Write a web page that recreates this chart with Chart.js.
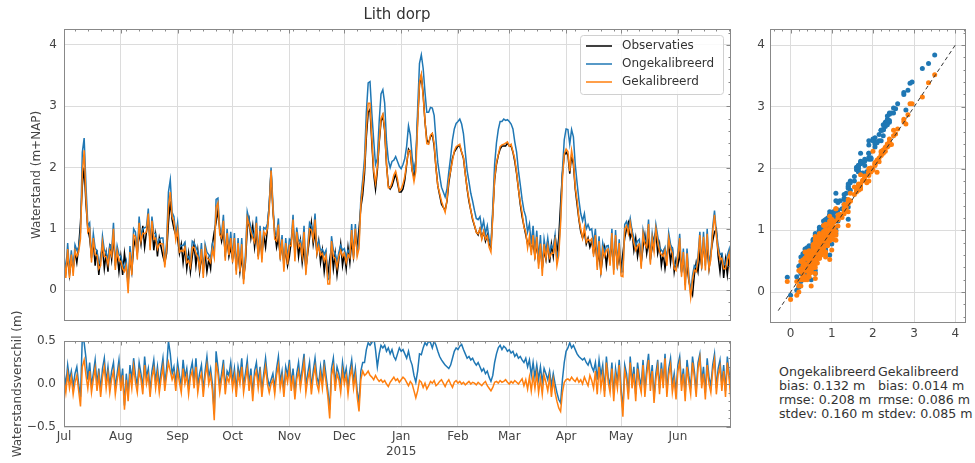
<!DOCTYPE html>
<html>
<head>
<meta charset="utf-8">
<title>Lith dorp</title>
<script src="https://cdn.jsdelivr.net/npm/chart.js@4.4.1/dist/chart.umd.min.js"></script>
<style>
  html, body { margin: 0; padding: 0; background: #fff; }
  body { width: 975px; height: 463px; position: relative; overflow: hidden; font-family: 'DejaVu Sans', sans-serif; }
  canvas { position: absolute; }
  #main { left: 0; top: 0; }
  #diff { left: 0; top: 290px; }
  #scatter { left: 740px; top: 0; }
  .stats { position: absolute; top: 365px; font-size: 12.6px; line-height: 13.9px; color: #333; white-space: pre; }
</style>
</head>
<body>
<canvas id="main" width="794" height="335"></canvas>
<canvas id="diff" width="760" height="173"></canvas>
<canvas id="scatter" width="235" height="350"></canvas>
<div class="stats" id="stats-uncal" style="left:779px"></div>
<div class="stats" id="stats-cal" style="left:878px"></div>
<script>
// Lith dorp: waterstand observaties vs model, jul 2014 - jun 2015 (dagwaarden, dag 0 = 1 juli 2014)
const seriesNames = ['Observaties', 'Ongekalibreerd', 'Gekalibreerd'];
const colors = ['#000000', '#1f77b4', '#ff7f0e'];

const monthLabels = ['Jul', 'Aug', 'Sep', 'Oct', 'Nov', 'Dec', 'Jan', 'Feb', 'Mar', 'Apr', 'May', 'Jun'];
const monthStarts = [0, 31, 62, 92, 123, 153, 184, 215, 243, 274, 304, 335];
const yearLabel = '2015';
const levelTicks = [0, 1, 2, 3, 4];
const diffTicks = [-0.5, 0, 0.5];
const oneToOne = [-0.3, 4];

// waterstand observaties (m+NAP)
const obs = [
  0.45, 0.30, 0.55, 0.25, 0.50, 0.35, 0.62, 0.45, 0.70, 1.10,
  1.70, 2.00, 1.40, 1.00, 0.85, 0.55, 0.80, 0.40, 0.65, 0.25,
  0.55, 0.70, 0.35, 0.60, 0.30, 0.75, 0.50, 0.85, 0.45, 0.60,
  0.30, 0.55, 0.25, 0.60, 0.35, 0.15, 0.50, 0.30, 0.70, 0.85,
  0.60, 0.95, 0.75, 1.05, 0.70, 0.95, 1.15, 0.80, 1.05, 0.65,
  0.90, 0.55, 0.85, 0.70, 0.55, 0.45, 0.60, 1.10, 1.45, 1.15,
  1.00, 0.90, 0.85, 0.60, 0.75, 0.45, 0.70, 0.35, 0.60, 0.30,
  0.55, 0.75, 0.40, 0.65, 0.30, 0.55, 0.35, 0.60, 0.30, 0.50,
  0.35, 0.75, 0.95, 1.10, 1.30, 1.00, 0.80, 0.95, 0.60, 0.85,
  0.55, 0.70, 0.50, 0.75, 0.40, 0.65, 0.30, 0.55, 0.20, 0.45,
  1.00, 1.15, 0.85, 1.05, 0.70, 0.95, 0.55, 0.85, 0.60, 0.90,
  0.70, 1.00, 1.40, 1.95, 1.30, 0.95, 0.70, 0.85, 0.55, 0.75,
  0.45, 0.65, 0.40, 0.55, 0.80, 1.05, 0.65, 0.90, 0.55, 0.80,
  0.45, 0.70, 0.35, 0.60, 0.85, 1.10, 0.75, 0.95, 0.60, 0.80,
  0.45, 0.65, 0.30, 0.55, 0.25, 0.50, 0.70, 0.35, 0.60, 0.25,
  0.50, 0.75, 0.40, 0.60, 0.35, 0.70, 0.45, 0.80, 0.55, 0.90,
  0.70, 1.00, 1.35, 1.55, 1.90, 2.50, 2.90, 2.95, 2.40, 1.90,
  1.65, 1.95, 2.40, 2.75, 2.85, 2.60, 2.05, 1.70, 1.65, 1.70,
  1.80, 1.90, 1.75, 1.60, 1.60, 1.65, 1.80, 2.05, 2.30, 2.25,
  1.95, 1.85, 2.10, 2.80, 3.35, 3.50, 3.20, 2.75, 2.45, 2.40,
  2.50, 2.55, 2.35, 2.00, 1.70, 1.55, 1.40, 1.35, 1.30, 1.45,
  1.75, 1.95, 2.15, 2.25, 2.30, 2.35, 2.35, 2.25, 2.15, 1.90,
  1.65, 1.45, 1.30, 1.15, 1.05, 0.95, 0.90, 1.00, 0.85, 0.95,
  0.80, 0.90, 0.75, 0.70, 1.25, 1.80, 2.05, 2.20, 2.30, 2.35,
  2.35, 2.35, 2.40, 2.35, 2.35, 2.25, 2.10, 1.90, 1.65, 1.40,
  1.20, 1.05, 0.90, 0.75, 0.80, 0.65, 0.80, 0.55, 0.75, 0.45,
  0.70, 0.35, 0.65, 0.50, 0.80, 0.45, 0.75, 0.55, 0.90, 0.60,
  0.85, 1.40, 1.90, 2.20, 2.25, 2.20, 1.90, 2.20, 2.05, 1.65,
  1.40, 1.15, 0.95, 0.85, 0.95, 0.75, 0.85, 0.70, 0.80, 0.60,
  0.75, 0.45, 0.60, 0.30, 0.55, 0.70, 0.40, 0.65, 0.50, 0.75,
  0.45, 0.80, 0.40, 0.55, 0.35, 0.60, 0.85, 1.00, 1.10, 0.85,
  0.95, 0.65, 0.85, 0.55, 0.75, 0.45, 0.70, 0.90, 0.60, 0.80,
  0.50, 0.70, 0.85, 0.95, 0.60, 0.75, 0.40, 0.60, 0.35, 0.55,
  0.75, 0.45, 0.70, 0.30, 0.50, 0.40, 0.60, 0.30, 0.50, 0.20,
  0.40, 0.15, 0.00, -0.08, 0.25, 0.45, 0.30, 0.60, 0.40, 0.75,
  0.50, 0.70, 0.35, 0.60, 0.80, 0.95, 1.00, 0.55, 0.30, 0.60,
  0.20, 0.50, 0.25, 0.55, 0.40
];

// verschil ongekalibreerd model - observatie (m)
const diffUncal = [
  0.14, -0.02, 0.22, 0.05, 0.15, -0.03, 0.12, 0.20, 0.00, -0.15,
  0.55, 0.48, 0.30, 0.05, 0.25, -0.02, 0.12, 0.28, 0.00, 0.18,
  -0.08, 0.18, 0.30, 0.02, 0.20, -0.02, 0.15, 0.25, -0.05, 0.12,
  0.28, 0.00, 0.18, -0.25, 0.12, -0.12, 0.22, 0.05, 0.30, 0.10,
  -0.02, 0.25, 0.12, -0.05, 0.32, 0.08, 0.18, -0.08, 0.15, 0.28,
  0.02, 0.20, -0.02, 0.15, 0.30, 0.00, 0.18, 0.50, 0.35, 0.12,
  0.20, 0.00, 0.25, 0.10, -0.02, 0.28, 0.08, 0.18, -0.05, 0.15,
  0.25, 0.02, 0.30, -0.02, 0.12, 0.22, -0.08, 0.15, 0.32, 0.08,
  0.18, 0.00, -0.35, 0.38, 0.20, -0.02, 0.12, 0.28, -0.05, 0.15,
  0.10, 0.25, 0.02, 0.18, -0.08, 0.20, 0.08, 0.30, -0.02, 0.12,
  0.28, 0.00, 0.18, -0.12, 0.15, 0.25, 0.02, 0.20, -0.08, 0.12,
  0.30, 0.08, -0.02, 0.05, 0.12, -0.05, 0.18, 0.32, 0.02, 0.15,
  -0.08, 0.20, 0.10, 0.28, 0.00, 0.18, -0.10, 0.12, 0.25, 0.02,
  0.18, 0.35, -0.02, 0.12, 0.25, -0.05, 0.15, 0.30, 0.08, 0.00,
  0.20, 0.02, 0.28, 0.10, -0.08, -0.30, 0.18, 0.30, 0.00, 0.20,
  0.12, -0.02, 0.25, 0.08, 0.18, -0.05, 0.15, 0.28, 0.02, 0.18,
  -0.08, -0.22, 0.15, 0.25, 0.25, 0.40, 0.48, 0.45, 0.48, 0.55,
  0.40, 0.20, 0.35, 0.45, 0.42, 0.45, 0.38, 0.42, 0.35, 0.40,
  0.32, 0.28, 0.35, 0.42, 0.38, 0.40, 0.35, 0.30, 0.38, 0.28,
  0.22, 0.10, 0.02, 0.15, 0.35, 0.34, 0.42, 0.48, 0.45, 0.50,
  0.48, 0.42, 0.50, 0.45, 0.38, 0.32, 0.28, 0.25, 0.22, 0.20,
  0.18, 0.22, 0.30, 0.38, 0.42, 0.40, 0.44, 0.46, 0.40, 0.35,
  0.30, 0.32, 0.28, 0.30, 0.25, 0.22, 0.25, 0.20, 0.15, 0.18,
  0.12, 0.15, 0.08, 0.03, 0.10, 0.25, 0.35, 0.42, 0.45, 0.40,
  0.44, 0.42, 0.38, 0.40, 0.36, 0.38, 0.32, 0.35, 0.30, 0.32,
  0.28, 0.25, 0.30, 0.20, 0.28, 0.10, 0.25, 0.08, 0.22, 0.05,
  0.20, 0.02, 0.18, 0.12, 0.05, 0.15, -0.02, 0.12, 0.00, -0.10,
  -0.18, -0.22, 0.05, 0.25, 0.38, 0.42, 0.48, 0.42, 0.45, 0.40,
  0.35, 0.32, 0.30, 0.28, 0.30, 0.25, 0.22, 0.28, 0.20, 0.15,
  0.25, 0.05, 0.28, 0.10, 0.22, -0.08, 0.32, 0.08, -0.02, 0.25,
  -0.12, 0.18, 0.02, 0.28, -0.05, -0.30, 0.22, 0.12, -0.10, 0.32,
  0.02, 0.20, -0.12, 0.25, 0.08, -0.02, 0.28, -0.08, 0.18, 0.35,
  0.00, 0.22, -0.15, 0.12, 0.28, -0.05, 0.25, 0.02, 0.35, -0.08,
  0.18, 0.30, -0.02, 0.12, -0.10, 0.22, 0.32, 0.00, 0.18, -0.12,
  0.28, 0.10, -0.05, 0.32, 0.15, -0.08, 0.25, 0.35, 0.02, 0.20,
  -0.10, 0.30, 0.08, -0.02, 0.22, 0.35, -0.05, 0.18, 0.28, 0.00,
  0.22, -0.08, 0.32, 0.12, -0.12
];

// verschil gekalibreerd model - observatie (m)
const diffCal = [
  0.05, -0.10, 0.12, -0.05, 0.08, -0.12, 0.02, 0.10, -0.08, -0.26,
  0.20, 0.28, 0.10, -0.05, 0.15, -0.10, 0.05, 0.18, -0.08, 0.10,
  -0.15, 0.08, 0.20, -0.05, 0.12, -0.10, 0.06, 0.15, -0.12, 0.04,
  0.18, -0.08, 0.10, -0.30, 0.05, -0.20, 0.12, -0.05, 0.20, 0.02,
  -0.10, 0.15, 0.05, -0.12, 0.22, 0.00, 0.10, -0.15, 0.08, 0.18,
  -0.05, 0.12, -0.10, 0.06, 0.20, -0.08, 0.10, 0.25, 0.15, 0.05,
  0.12, -0.08, 0.15, 0.02, -0.10, 0.18, 0.00, 0.10, -0.12, 0.08,
  0.15, -0.05, 0.20, -0.10, 0.05, 0.12, -0.15, 0.08, 0.22, 0.00,
  0.10, -0.08, -0.42, 0.25, 0.12, -0.10, 0.05, 0.18, -0.12, 0.08,
  0.02, 0.15, -0.05, 0.10, -0.15, 0.12, 0.00, 0.20, -0.10, 0.05,
  0.18, -0.08, 0.10, -0.20, 0.08, 0.15, -0.05, 0.12, -0.15, 0.05,
  0.20, 0.00, -0.10, 0.00, 0.05, -0.12, 0.10, 0.22, -0.05, 0.08,
  -0.15, 0.12, 0.02, 0.18, -0.08, 0.10, -0.18, 0.05, 0.15, -0.05,
  0.10, 0.25, -0.10, 0.05, 0.15, -0.12, 0.08, 0.20, 0.00, -0.08,
  0.12, -0.05, 0.18, 0.02, -0.15, -0.40, 0.10, 0.20, -0.08, 0.12,
  0.05, -0.10, 0.15, 0.00, 0.10, -0.12, 0.08, 0.18, -0.05, 0.10,
  -0.15, -0.32, 0.05, 0.15, 0.10, 0.12, 0.15, 0.10, 0.08, 0.05,
  0.10, 0.06, 0.03, 0.05, 0.02, 0.04, 0.00, -0.03, 0.02, 0.05,
  0.08, 0.04, 0.06, 0.02, 0.05, 0.08, 0.06, 0.02, -0.02, 0.03,
  0.00, -0.08, -0.16, -0.08, 0.04, 0.02, -0.04, 0.01, -0.06, -0.02,
  0.03, 0.01, 0.04, -0.02, 0.00, 0.03, 0.05, 0.01, -0.03, 0.02,
  0.05, 0.00, -0.04, 0.02, 0.04, 0.01, 0.03, 0.00, 0.02, -0.01,
  0.01, 0.03, 0.00, 0.02, 0.01, -0.01, 0.02, 0.00, -0.02, 0.01,
  0.03, -0.02, -0.05, -0.08, -0.04, 0.02, 0.03, 0.01, 0.04, 0.02,
  0.03, 0.05, 0.02, 0.00, 0.03, 0.01, 0.04, 0.02, 0.00, 0.03,
  0.06, -0.02, 0.05, -0.06, 0.08, -0.08, 0.10, -0.05, 0.12, -0.10,
  0.06, -0.12, 0.10, 0.02, -0.08, 0.08, -0.15, 0.05, -0.10, -0.20,
  -0.28, -0.32, -0.10, 0.02, 0.05, 0.06, 0.04, 0.08, 0.05, 0.03,
  0.07, 0.02, 0.05, 0.00, 0.08, 0.03, -0.02, 0.10, 0.04, -0.05,
  0.15, -0.12, 0.20, -0.05, 0.12, -0.15, 0.25, 0.02, -0.10, 0.18,
  -0.20, 0.10, -0.05, 0.22, -0.12, -0.38, 0.15, 0.05, -0.18, 0.25,
  -0.05, 0.12, -0.20, 0.18, 0.00, -0.10, 0.22, -0.15, 0.10, 0.28,
  -0.08, 0.15, -0.22, 0.05, 0.20, -0.12, 0.18, -0.05, 0.30, -0.15,
  0.10, 0.22, -0.10, 0.05, -0.18, 0.15, 0.25, -0.08, 0.12, -0.20,
  0.20, 0.02, -0.12, 0.25, 0.08, -0.15, 0.18, 0.30, -0.05, 0.12,
  -0.18, 0.22, 0.00, -0.10, 0.15, 0.28, -0.12, 0.10, 0.20, -0.08,
  0.15, -0.15, 0.25, 0.05, -0.20
];

const statLabels = ['bias', 'rmse', 'stdev'];
const statUncal = [0.132, 0.208, 0.160];
const statCal = [0.014, 0.086, 0.085];

// modelreeksen = observatie + verschil
const uncal = obs.map((v, i) => +(v + diffUncal[i]).toFixed(3));
const cal = obs.map((v, i) => +(v + diffCal[i]).toFixed(3));
const toXY = arr => arr.map((v, i) => ({ x: i, y: v }));

Chart.defaults.font.family = "'DejaVu Sans', sans-serif";
Chart.defaults.font.size = 12;
Chart.defaults.color = '#444';

const gridColor = '#dcdcdc';
const frameColor = '#888';

// minor ticks (alleen versiering op boven- en rechterrand)
const weekTicks = [];
for (let d = 6; d <= 364; d += 7) weekTicks.push(d);
const levelMinor = [];
for (let v = -4; v <= 42; v += 2) levelMinor.push(v / 10);
const diffMinor = [];
for (let v = -4; v <= 4; v++) diffMinor.push(v / 10);

// kader + naar binnen wijzende ticks boven en rechts
const frameTicks = {
  id: 'frameTicks',
  afterDraw(chart, args, opts) {
    const { ctx, chartArea: a, scales } = chart;
    ctx.save();
    ctx.strokeStyle = frameColor;
    ctx.lineWidth = 1;
    ctx.strokeRect(Math.round(a.left) + 0.5, Math.round(a.top) + 0.5, Math.round(a.width) - 1, Math.round(a.height) - 1);
    const tick = (x1, y1, x2, y2) => { ctx.beginPath(); ctx.moveTo(x1, y1); ctx.lineTo(x2, y2); ctx.stroke(); };
    const xs = (vals, len) => (vals || []).forEach(v => {
      const x = Math.round(scales.x.getPixelForValue(v)) + 0.5;
      tick(x, a.top, x, a.top + len);
    });
    const ys = (vals, len) => (vals || []).forEach(v => {
      const y = Math.round(scales.y.getPixelForValue(v)) + 0.5;
      tick(a.right, y, a.right - len, y);
    });
    xs(opts.xMinor, 2.5); xs(opts.xMajor, 4.5);
    ys(opts.yMinor, 2.5); ys(opts.yMajor, 4.5);
    ctx.restore();
  }
};

// legenda in kader rechtsboven
const boxLegend = {
  id: 'boxLegend',
  afterDraw(chart) {
    const { ctx, chartArea: a } = chart;
    const w = 143, h = 59;
    const x0 = a.right - 8 - w, y0 = a.top + 6;
    ctx.save();
    ctx.beginPath();
    if (ctx.roundRect) ctx.roundRect(x0 + 0.5, y0 + 0.5, w, h, 3); else ctx.rect(x0 + 0.5, y0 + 0.5, w, h);
    ctx.fillStyle = 'rgba(255,255,255,0.85)';
    ctx.fill();
    ctx.strokeStyle = '#d0d0d0';
    ctx.lineWidth = 1;
    ctx.stroke();
    ctx.font = "12px 'DejaVu Sans', sans-serif";
    ctx.textBaseline = 'middle';
    chart.data.datasets.forEach((ds, i) => {
      const y = y0 + 11 + i * 18;
      ctx.beginPath();
      ctx.moveTo(x0 + 6, y);
      ctx.lineTo(x0 + 32, y);
      ctx.strokeStyle = ds.borderColor;
      ctx.lineWidth = 1.5;
      ctx.stroke();
      ctx.fillStyle = '#333';
      ctx.fillText(ds.label, x0 + 42, y);
    });
    ctx.restore();
  }
};

const setTicks = vals => scale => { scale.ticks = vals.map(v => ({ value: v })); };

// bovenste paneel: waterstand
new Chart(document.getElementById('main'), {
  type: 'line',
  data: {
    datasets: [
      { label: seriesNames[0], data: toXY(obs), borderColor: colors[0], order: 2 },
      { label: seriesNames[1], data: toXY(uncal), borderColor: colors[1], order: 1 },
      { label: seriesNames[2], data: toXY(cal), borderColor: colors[2], order: 0 }
    ]
  },
  options: {
    responsive: false,
    animation: false,
    events: [],
    layout: { padding: { left: 0, top: 0, right: 0, bottom: 12 } },
    elements: { point: { radius: 0 }, line: { borderWidth: 1.5, tension: 0 } },
    scales: {
      x: {
        type: 'linear', min: 0, max: 364, bounds: 'data',
        grid: { color: gridColor, drawTicks: false },
        border: { display: false },
        ticks: { display: false },
        afterBuildTicks: setTicks(monthStarts),
        afterFit: s => { s.height = 0; }
      },
      y: {
        min: -0.5, max: 4.26, bounds: 'data',
        grid: { color: gridColor, drawTicks: false },
        border: { display: false },
        ticks: { padding: 7, callback: v => String(v) },
        afterBuildTicks: setTicks(levelTicks),
        afterFit: s => { s.width = 64; },
        title: { display: true, text: 'Waterstand (m+NAP)', padding: { top: 30, bottom: 0 } }
      },
      // lege ruimte rechts zodat de titel boven het plotvlak centreert
      spacer: {
        type: 'linear', position: 'right',
        grid: { display: false },
        border: { display: false },
        ticks: { display: false },
        afterFit: s => { s.width = 63; }
      }
    },
    plugins: {
      legend: { display: false },
      tooltip: { enabled: false },
      title: {
        display: true, text: 'Lith dorp', color: '#333',
        font: { size: 15, weight: 'normal' },
        padding: { top: 6, bottom: 5 }
      },
      frameTicks: { xMajor: monthStarts, xMinor: weekTicks, yMajor: levelTicks, yMinor: levelMinor }
    }
  },
  plugins: [frameTicks, boxLegend]
});

// onderste paneel: waterstandsverschil
new Chart(document.getElementById('diff'), {
  type: 'line',
  data: {
    datasets: [
      { label: seriesNames[1], data: toXY(diffUncal), borderColor: colors[1], order: 1 },
      { label: seriesNames[2], data: toXY(diffCal), borderColor: colors[2], order: 0 }
    ]
  },
  options: {
    responsive: false,
    animation: false,
    events: [],
    layout: { padding: { left: 0, top: 51, right: 29, bottom: 0 } },
    elements: { point: { radius: 0 }, line: { borderWidth: 1.5, tension: 0 } },
    scales: {
      x: {
        type: 'linear', min: 0, max: 364, bounds: 'data',
        grid: { color: gridColor, drawTicks: false },
        border: { display: false },
        ticks: {
          padding: 3, maxRotation: 0, autoSkip: false,
          callback: (v, i) => i === 6 ? [monthLabels[i], yearLabel] : monthLabels[i]
        },
        afterBuildTicks: setTicks(monthStarts),
        afterFit: s => { s.height = 36; }
      },
      y: {
        min: -0.5, max: 0.5, bounds: 'data',
        grid: { color: gridColor, drawTicks: false },
        border: { display: false },
        ticks: { padding: 8, callback: v => (v < 0 ? '\u2212' : '') + Math.abs(v).toFixed(1) },
        afterBuildTicks: setTicks(diffTicks),
        afterFit: s => { s.width = 64; },
        title: { display: true, text: 'Waterstandsverschil (m)', padding: { top: 11, bottom: 0 } }
      }
    },
    plugins: {
      legend: { display: false },
      tooltip: { enabled: false },
      frameTicks: { xMajor: monthStarts, xMinor: weekTicks, yMajor: diffTicks, yMinor: diffMinor }
    }
  },
  plugins: [frameTicks]
});

// rechts: model tegen observatie
new Chart(document.getElementById('scatter'), {
  type: 'scatter',
  data: {
    datasets: [
      {
        type: 'line', label: '1:1', order: -1,
        data: oneToOne.map(v => ({ x: v, y: v })),
        borderColor: '#333', borderWidth: 1, borderDash: [4, 3], pointRadius: 0
      },
      {
        label: seriesNames[1], order: 1,
        data: obs.map((v, i) => ({ x: v, y: uncal[i] })),
        backgroundColor: colors[1], borderWidth: 0, pointRadius: 2.5
      },
      {
        label: seriesNames[2], order: 0,
        data: obs.map((v, i) => ({ x: v, y: cal[i] })),
        backgroundColor: colors[2], borderWidth: 0, pointRadius: 2.5
      }
    ]
  },
  options: {
    responsive: false,
    animation: false,
    events: [],
    layout: { padding: { left: 0, top: 29, right: 9, bottom: 0 } },
    scales: {
      x: {
        type: 'linear', min: -0.5, max: 4.26, bounds: 'data',
        grid: { color: gridColor, drawTicks: false },
        border: { display: false },
        ticks: { padding: 4, maxRotation: 0, callback: v => String(v) },
        afterBuildTicks: setTicks(levelTicks),
        afterFit: s => { s.height = 27; }
      },
      y: {
        min: -0.5, max: 4.26, bounds: 'data',
        grid: { color: gridColor, drawTicks: false },
        border: { display: false },
        ticks: { padding: 5, callback: v => String(v) },
        afterBuildTicks: setTicks(levelTicks),
        afterFit: s => { s.width = 30; }
      }
    },
    plugins: {
      legend: { display: false },
      tooltip: { enabled: false },
      frameTicks: { xMinor: levelMinor, xMajor: levelTicks, yMinor: levelMinor, yMajor: levelTicks }
    }
  },
  plugins: [frameTicks]
});

// statistiek onder de scatterplot
const statText = (name, vals) => [name].concat(statLabels.map((l, i) => l + ': ' + vals[i].toFixed(3) + ' m')).join('\n');
document.getElementById('stats-uncal').textContent = statText(seriesNames[1], statUncal);
document.getElementById('stats-cal').textContent = statText(seriesNames[2], statCal);
</script>
</body>
</html>
